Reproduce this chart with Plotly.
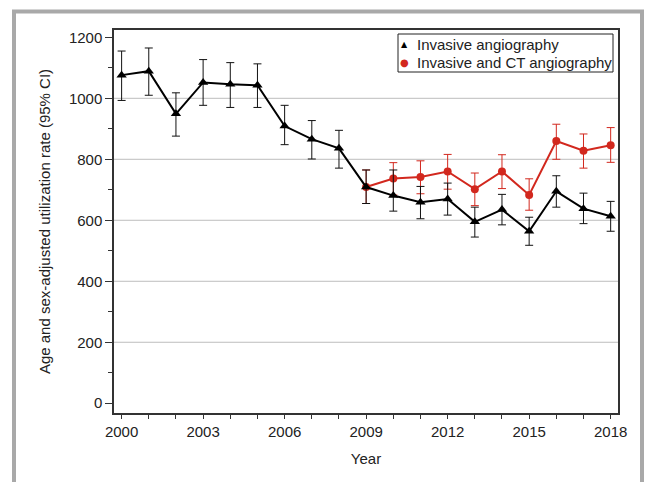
import plotly.graph_objects as go

# ---- data ----
years = list(range(2000, 2019))
inv_rate = [1076, 1089, 949, 1052, 1046, 1043, 909, 866, 836, 709,
            681, 659, 670, 595, 635, 564, 695, 638, 613]
inv_upper = [1155, 1165, 1018, 1127, 1117, 1113, 977, 927, 895, 765,
             765, 711, 722, 643, 685, 610, 746, 689, 662]
inv_lower = [993, 1010, 876, 977, 970, 970, 848, 801, 771, 655,
             630, 605, 617, 545, 585, 518, 643, 589, 564]

ct_years = list(range(2009, 2019))
ct_rate = [709, 737, 742, 760, 702, 760, 683, 860, 828, 846]
ct_upper = [765, 789, 795, 816, 755, 815, 736, 915, 883, 904]
ct_lower = [655, 683, 687, 702, 648, 704, 633, 800, 771, 790]

series_names = ["Invasive angiography", "Invasive and CT angiography"]
grid_vals = [200, 400, 600, 800, 1000]

# ---- layout geometry (pixels) ----
W, H = 647, 482
ml, mr, mt, mb = 114, 29, 30, 69
pw, ph = W - ml - mr, H - mt - mb

def px_x(p):
    return (p - ml) / pw

def px_y(p):
    return (H - mb - p) / ph

BLACK = "#000000"
RED = "#d2281e"
FONT = "Liberation Sans, Arial, sans-serif"
TXT = "#222222"

fig = go.Figure()

fig.add_trace(go.Scatter(
    x=ct_years, y=ct_rate, mode="lines+markers", name=series_names[1],
    line=dict(color=RED, width=2),
    marker=dict(symbol="circle", size=8, color=RED),
    error_y=dict(type="data", symmetric=False,
                 array=[u - v for u, v in zip(ct_upper, ct_rate)],
                 arrayminus=[v - l for v, l in zip(ct_rate, ct_lower)],
                 color=RED, thickness=1, width=4),
    showlegend=False))

fig.add_trace(go.Scatter(
    x=years, y=inv_rate, mode="lines+markers", name=series_names[0],
    line=dict(color=BLACK, width=2),
    marker=dict(symbol="triangle-up", size=9, color=BLACK),
    error_y=dict(type="data", symmetric=False,
                 array=[u - v for u, v in zip(inv_upper, inv_rate)],
                 arrayminus=[v - l for v, l in zip(inv_rate, inv_lower)],
                 color="#111111", thickness=1, width=4),
    showlegend=False))

shapes = []
for g in grid_vals:
    shapes.append(dict(type="line", xref="paper", yref="y", x0=0, x1=1, y0=g, y1=g,
                       line=dict(color="#bdbdbd", width=1), layer="below"))
# outer gray frame
shapes.append(dict(type="rect", xref="paper", yref="paper",
                   x0=px_x(14), x1=px_x(642), y0=px_y(11.5), y1=px_y(520),
                   line=dict(color="#a9a9a9", width=4)))
# legend box
shapes.append(dict(type="rect", xref="paper", yref="paper",
                   x0=px_x(398), x1=px_x(613), y0=px_y(34), y1=px_y(72),
                   line=dict(color="#222222", width=1), fillcolor="white"))

annotations = []
legend_rows = [
    (series_names[0], "▲", BLACK, 8, 44.5),
    (series_names[1], "●", RED, 10, 62.5),
]
for name, glyph, col, gsize, ypx in legend_rows:
    annotations.append(dict(xref="paper", yref="paper", x=px_x(404.5), y=px_y(ypx),
                            xanchor="center", yanchor="middle", showarrow=False,
                            text=glyph, font=dict(family="DejaVu Sans", size=gsize, color=col)))
    annotations.append(dict(xref="paper", yref="paper", x=px_x(415), y=px_y(ypx),
                            xanchor="left", yanchor="middle", showarrow=False,
                            text=name, font=dict(family=FONT, size=15, color=TXT)))

fig.update_layout(
    width=W, height=H,
    margin=dict(l=ml, r=mr, t=mt, b=mb, pad=0),
    paper_bgcolor="white", plot_bgcolor="white",
    font=dict(family=FONT, size=15, color=TXT),
    shapes=shapes, annotations=annotations,
    showlegend=False,
    xaxis=dict(range=[1999.72, 2018.27], tickmode="array",
               tickvals=[2000, 2003, 2006, 2009, 2012, 2015, 2018],
               ticks="outside", ticklen=4, tickcolor="#333333",
               showline=True, linecolor="#333333", linewidth=1.5, mirror=True,
               showgrid=False, zeroline=False, automargin=False,
               minor=dict(dtick=1, tick0=2000, ticks="outside", ticklen=4,
                          tickcolor="#333333", showgrid=False),
               title=dict(text="Year", font=dict(size=15))),
    yaxis=dict(range=[-32, 1224], tickmode="linear", tick0=0, dtick=200,
               ticks="outside", ticklen=7, tickcolor="#333333",
               showline=True, linecolor="#333333", linewidth=1.5, mirror=True,
               showgrid=False, zeroline=False, automargin=False,
               minor=dict(dtick=100, tick0=0, ticks="outside", ticklen=4,
                          tickcolor="#333333", showgrid=False),
               title=dict(text="Age and sex-adjusted utilization rate (95% CI)",
                          font=dict(size=15))),
)

fig.write_html("out.html", config={"displayModeBar": False},
               post_script="document.body.style.margin='0';document.body.style.overflow='hidden';")
